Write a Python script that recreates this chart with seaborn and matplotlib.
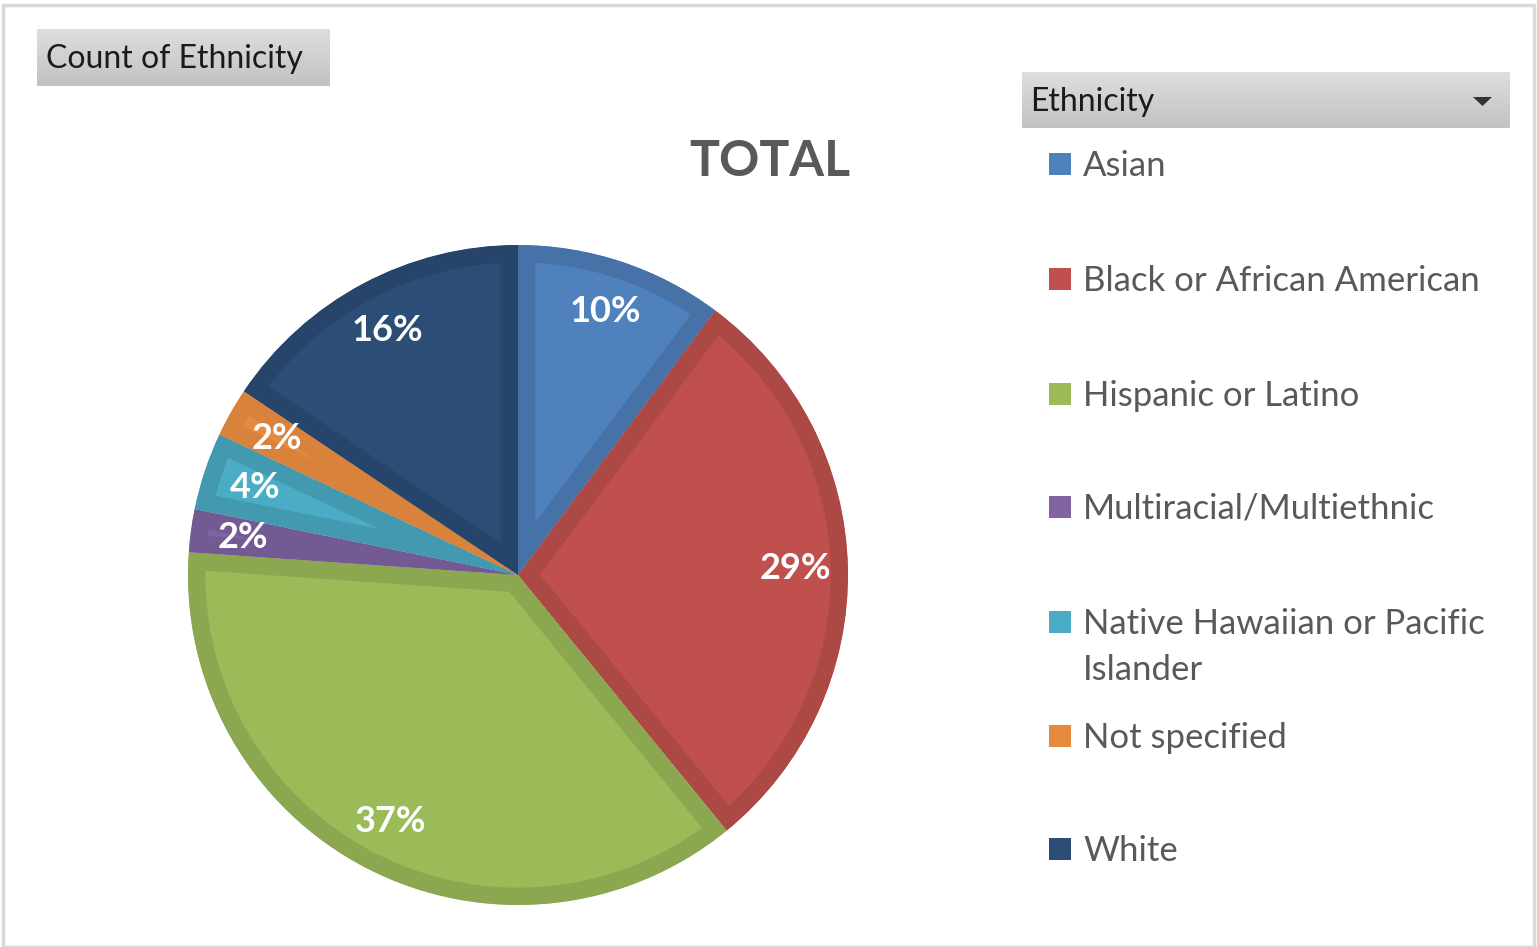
import numpy as np
import matplotlib
matplotlib.use("Agg")
import matplotlib.pyplot as plt
from matplotlib.patches import Rectangle, Polygon, Wedge
import seaborn as sns

categories = ["Asian", "Black or African American", "Hispanic or Latino",
              "Multiracial/Multiethnic", "Native Hawaiian or Pacific Islander",
              "Not specified", "White"]
legend_labels = ["Asian", "Black or African American", "Hispanic or Latino",
                 "Multiracial/Multiethnic", "Native Hawaiian or Pacific\nIslander",
                 "Not specified", "White"]
values = [10.2, 28.9, 37.0, 2.1, 3.8, 2.4, 15.6]
fill_colors = ["#4F81BD", "#C0504D", "#9BBB59", "#8064A2", "#4BACC6", "#E58A3F", "#2C4D75"]
edge_colors = ["#4672A8", "#AD4945", "#8BA851", "#735A92", "#4299B0", "#D9823C", "#27446A"]

sns.set_theme(style="white")
plt.rcParams['font.family'] = ['Lato', 'DejaVu Sans']

W, H = 1537, 947
fig = plt.figure(figsize=(W / 100, H / 100), dpi=100)
fig.patch.set_facecolor("white")

# outer frame
fig.patches.append(Rectangle((3 / W, 0), (W - 6) / W, (H - 5) / H, transform=fig.transFigure,
                             fill=False, edgecolor="#D9D9D9", linewidth=2.5))

# pie
cx, cy, R = 518, 575, 330
ax = fig.add_axes([(cx - R) / W, 1 - (cy + R) / H, 2 * R / W, 2 * R / H])
palette = sns.color_palette(fill_colors)
wedges, texts, autotexts = ax.pie(values, colors=palette, startangle=90, counterclock=False,
                                  autopct=lambda p: f"{p:.0f}%", pctdistance=0.84,
                                  wedgeprops=dict(linewidth=0))
for w, ec in zip(wedges, edge_colors):
    clip = Wedge(w.center, w.r, w.theta1, w.theta2, transform=ax.transData)
    w.set_edgecolor(ec)
    w.set_linewidth(25)
    w.set_joinstyle("miter")
    w.set_clip_on(True)
    w.set_clip_path(clip)
for t in autotexts:
    t.set_color("white")
    t.set_fontweight("bold")
    t.set_fontsize(26)
ax.set_xlim(-1, 1)
ax.set_ylim(-1, 1)
ax.set_aspect("equal")
ax.axis("off")

# title
fig.text(770 / W, 1 - 162 / H, "TOTAL", ha="center", va="center", fontsize=36,
         fontweight="bold", color="#595959")

def gradient_box(x0, y0, x1, y1):
    bax = fig.add_axes([x0 / W, 1 - y1 / H, (x1 - x0) / W, (y1 - y0) / H])
    grad = np.linspace(0, 1, 64).reshape(-1, 1)
    cmap = matplotlib.colors.LinearSegmentedColormap.from_list("g", ["#DEDEDE", "#C2C2C2"])
    bax.imshow(grad, aspect="auto", cmap=cmap, extent=[0, 1, 0, 1], origin="upper")
    bax.set_xlim(0, 1)
    bax.set_ylim(0, 1)
    bax.axis("off")
    return bax

gradient_box(37, 29, 329, 86)
fig.text(46 / W, 1 - 59 / H, "Count of Ethnicity", ha="left", va="center",
         fontsize=23, color="#1A1A1A")

bax = gradient_box(1022, 72, 1510, 128)
fig.text(1030 / W, 1 - 102 / H, "Ethnicity", ha="left", va="center",
         fontsize=23, color="#1A1A1A")
tri = Polygon([[1473 / W, 1 - 97 / H], [1492 / W, 1 - 97 / H], [1482.5 / W, 1 - 106 / H]],
              closed=True, transform=fig.transFigure, facecolor="#333333", edgecolor="none")
fig.patches.append(tri)

# legend
ys = [164, 279, 394, 507, 622, 736, 849]
for lab, col, y in zip(legend_labels, fill_colors, ys):
    fig.patches.append(Rectangle((1049 / W, 1 - (y + 11) / H), 22 / W, 22 / H,
                                 transform=fig.transFigure, facecolor=col, edgecolor="none"))
    fig.text(1083 / W, 1 - (y - 14) / H, lab, ha="left", va="top", fontsize=25,
             color="#595959", linespacing=1.55)

fig.savefig("out.png", dpi=100, facecolor="white")
